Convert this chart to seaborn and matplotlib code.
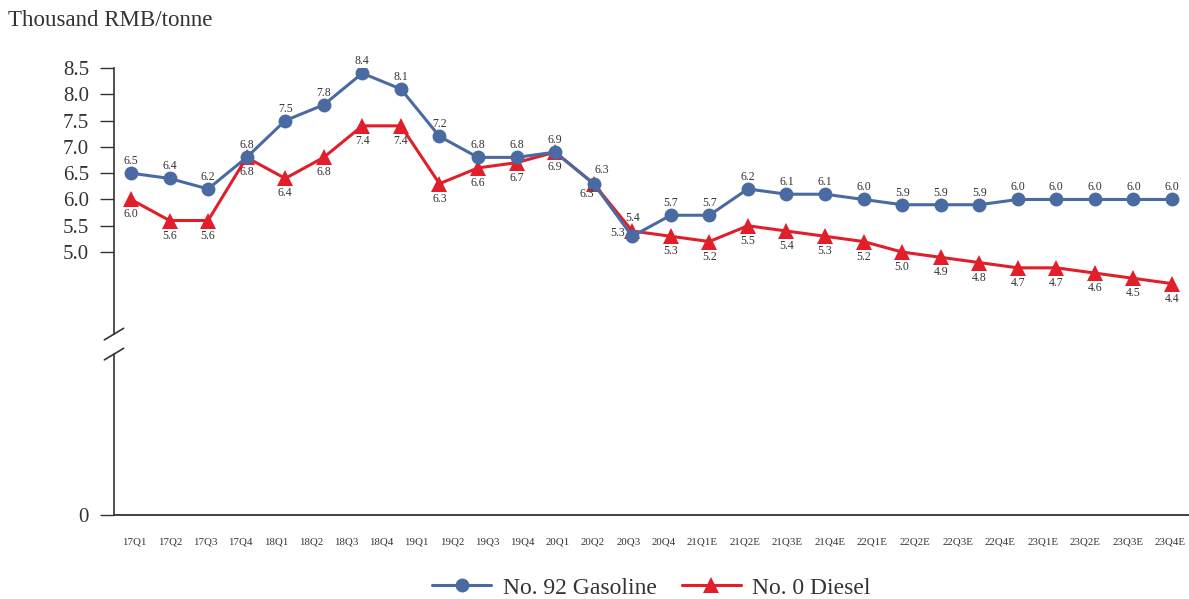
import numpy as np
import pandas as pd
import matplotlib
matplotlib.use("Agg")
import matplotlib.pyplot as plt
import seaborn as sns

quarters = ["17Q1", "17Q2", "17Q3", "17Q4", "18Q1", "18Q2", "18Q3", "18Q4",
            "19Q1", "19Q2", "19Q3", "19Q4", "20Q1", "20Q2", "20Q3", "20Q4",
            "21Q1E", "21Q2E", "21Q3E", "21Q4E", "22Q1E", "22Q2E", "22Q3E", "22Q4E",
            "23Q1E", "23Q2E", "23Q3E", "23Q4E"]
gasoline = [6.5, 6.4, 6.2, 6.8, 7.5, 7.8, 8.4, 8.1, 7.2, 6.8, 6.8, 6.9, 6.3, 5.3,
            5.7, 5.7, 6.2, 6.1, 6.1, 6.0, 5.9, 5.9, 5.9, 6.0, 6.0, 6.0, 6.0, 6.0]
diesel = [6.0, 5.6, 5.6, 6.8, 6.4, 6.8, 7.4, 7.4, 6.3, 6.6, 6.7, 6.9, 6.3, 5.4,
          5.3, 5.2, 5.5, 5.4, 5.3, 5.2, 5.0, 4.9, 4.8, 4.7, 4.7, 4.6, 4.5, 4.4]
series_names = ["No. 92 Gasoline", "No. 0 Diesel"]
yticks = [0, 5.0, 5.5, 6.0, 6.5, 7.0, 7.5, 8.0, 8.5]
y_title = "Thousand RMB/tonne"

BLUE = "#4A6BA2"
RED = "#E01F2A"
TXT = "#333333"

sns.set_theme(style="white")
plt.rcParams["font.family"] = ["Liberation Serif", "DejaVu Serif"]

pos = np.arange(len(quarters))
df = pd.DataFrame({
    "x": np.concatenate([pos, pos]),
    "value": gasoline + diesel,
    "series": [series_names[0]] * len(pos) + [series_names[1]] * len(pos),
})

fig = plt.figure(figsize=(11.89, 5.99), dpi=100)
ax = fig.add_axes([114 / 1189, 84 / 599, 1075 / 1189, 447 / 599])

sns.lineplot(data=df, x="x", y="value", hue="series", style="series",
             markers=["o", "^"], dashes=False, palette=[BLUE, RED],
             linewidth=2.2, markersize=10, markeredgewidth=0, ax=ax)
for line in ax.lines:
    if line.get_marker() == "^":
        line.set_markersize(11)
        line.set_zorder(2)
    elif line.get_marker() == "o":
        line.set_zorder(3)

ax.set_xlim(-0.44, len(quarters) - 1 + 0.44)
ax.set_ylim(0, 8.5)

# value labels (pixel offsets); a few points where the two lines meet are placed aside
gas_special = {12: (8, 14, "center"), 13: (-7, 3, "right")}
die_special = {12: (-7, -10, "center"), 13: (0, 13, "center")}
for i in range(len(quarters)):
    dx, dy, ha = gas_special.get(i, (0, 12, "center"))
    ax.annotate(f"{gasoline[i]:.1f}", (pos[i], gasoline[i]), xytext=(dx * 0.72, dy * 0.72),
                textcoords="offset points", ha=ha, va="center", fontsize=8.5, color=TXT)
    dx, dy, ha = die_special.get(i, (0, -15, "center"))
    ax.annotate(f"{diesel[i]:.1f}", (pos[i], diesel[i]), xytext=(dx * 0.72, dy * 0.72),
                textcoords="offset points", ha=ha, va="center", fontsize=8.5, color=TXT)

# x tick labels laid out like flowing text (spacing by label length)
char_w, gap = 0.189, 0.158
tick_pos = [0.1]
for a, b in zip(quarters[:-1], quarters[1:]):
    tick_pos.append(tick_pos[-1] + gap + char_w * (len(a) + len(b)) / 2)
ax.set_xticks(tick_pos)
ax.set_xticklabels(quarters, fontsize=7.8, color=TXT)
ax.tick_params(axis="x", length=0, pad=16)

ax.set_yticks(yticks)
ax.set_yticklabels(["0" if v == 0 else f"{v:.1f}" for v in yticks], fontsize=15, color=TXT)
ax.tick_params(axis="y", direction="out", length=10, width=1.0, color=TXT, pad=8, left=True)

ax.set_xlabel("")
ax.set_ylabel("")
for s in ["top", "right"]:
    ax.spines[s].set_visible(False)
ax.spines["bottom"].set_color(TXT)
ax.spines["bottom"].set_linewidth(1.3)
ax.spines["left"].set_color(TXT)
ax.spines["left"].set_linewidth(1.2)
ax.spines["left"].set_bounds(3.44, 8.5)

# lower part of y axis + break marks
x0 = ax.get_xlim()[0]
ax.plot([x0, x0], [0, 3.06], color=TXT, lw=1.2, clip_on=False)
for yb in (3.06, 3.44):
    ax.plot([x0 - 0.25, x0 + 0.25], [yb - 0.11, yb + 0.11], color=TXT, lw=1.2, clip_on=False)

fig.text(8 / 1189, 1 - 20 / 599, y_title, fontsize=16.5, color=TXT, ha="left", va="center")

handles, labels = ax.get_legend_handles_labels()
ax.legend(handles, labels, loc="center", bbox_to_anchor=(0.5, -0.163), ncol=2,
          frameon=False, fontsize=17, handlelength=2.5, handletextpad=0.5,
          columnspacing=1.05, labelcolor=TXT)

fig.savefig("out.png", dpi=100)
